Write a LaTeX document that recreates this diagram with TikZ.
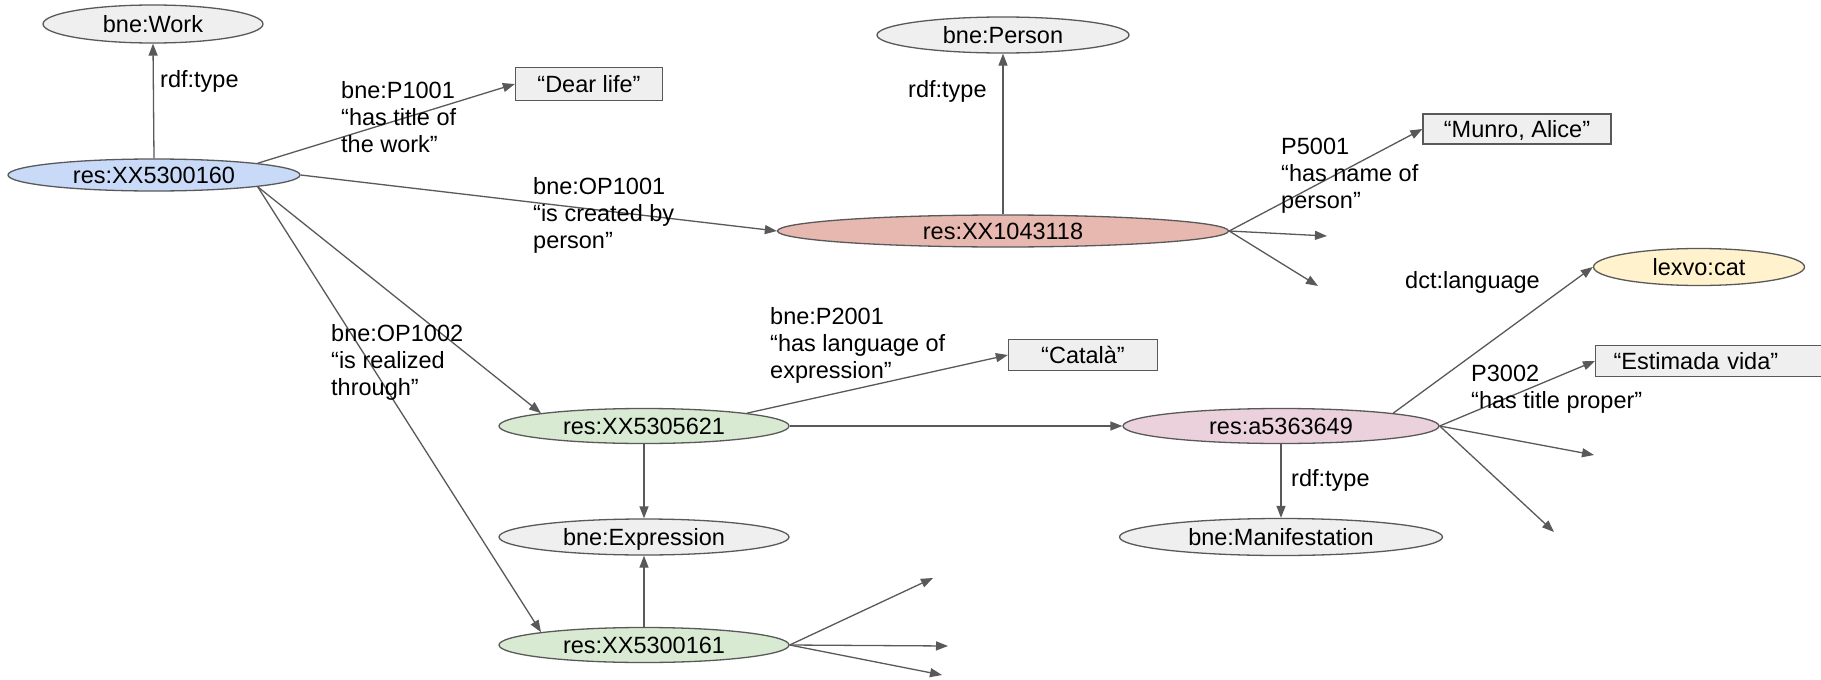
\documentclass[tikz,border=0pt]{standalone}
\usepackage{fontspec}
\setmainfont{Liberation Sans}
\usetikzlibrary{arrows.meta,shapes.geometric}
\definecolor{ln}{HTML}{595959}
\definecolor{gfill}{HTML}{EFEFEF}
\definecolor{bluef}{HTML}{C9DAF8}
\definecolor{redf}{HTML}{E6B8AF}
\definecolor{yelf}{HTML}{FFF2CC}
\definecolor{grnf}{HTML}{D9EAD3}
\definecolor{pinkf}{HTML}{EAD1DC}
\begin{document}
\begin{tikzpicture}[x=1pt,y=-1pt,
  font=\fontsize{23.5}{27}\selectfont,
  ell/.style={ellipse, draw=ln, line width=1.3pt, fill=gfill, inner sep=0pt,
    text height=16.8pt, text depth=0pt},
  lit/.style={rectangle, draw=ln, line width=1.3pt, fill=gfill, inner sep=0pt,
    text height=16.8pt, text depth=0pt},
  lbl/.style={anchor=north west, inner sep=0pt, align=left},
  arr/.style={draw=ln, line width=1.3pt, -{Triangle[length=12pt,width=9pt]}}]
\fill[white] (0,0) rectangle (1821,680);
\useasboundingbox (0,0) rectangle (1821,680);

% nodes
\node[ell, minimum width=220pt, minimum height=38pt] (work) at (153,24) {bne:Work};
\node[ell, fill=bluef, minimum width=292pt, minimum height=32pt] (x160) at (154,175) {res:XX5300160};
\node[lit, minimum width=147pt, minimum height=33pt] (dearlife) at (589,84) {“Dear life”};
\node[ell, minimum width=252pt, minimum height=36pt] (person) at (1003,35) {bne:Person};
\node[ell, fill=redf, minimum width=451pt, minimum height=32pt] (x118) at (1003,231) {res:XX1043118};
\node[lit, minimum width=188pt, minimum height=30pt] (munro) at (1517,129) {“Munro, Alice”};
\node[ell, fill=yelf, minimum width=211pt, minimum height=37pt] (lexvo) at (1699,267) {lexvo:cat};
\node[lit, anchor=west, minimum height=31pt, text width=190pt, align=left, inner xsep=18pt] (estimada) at (1595,361) {“Estimada vida”};
\node[lit, minimum width=149pt, minimum height=31pt] (catala) at (1083,355) {“Català”};
\node[ell, fill=grnf, minimum width=290pt, minimum height=35pt] (x621) at (644,426) {res:XX5305621};
\node[ell, fill=pinkf, minimum width=316pt, minimum height=35pt] (a649) at (1281,426) {res:a5363649};
\node[ell, minimum width=290pt, minimum height=36pt] (expression) at (644,537) {bne:Expression};
\node[ell, minimum width=323pt, minimum height=37pt] (manif) at (1281,537) {bne:Manifestation};
\node[ell, fill=grnf, minimum width=290pt, minimum height=35pt] (x161) at (644,645) {res:XX5300161};

% free ends
\coordinate (d1) at (1327,236);
\coordinate (d2) at (1318,286);
\coordinate (d3) at (933,578);
\coordinate (d4) at (948,646);
\coordinate (d5) at (942,675);
\coordinate (d6) at (1594,455);
\coordinate (d7) at (1554,532);

% connectors
\draw[arr] (x160.north) -- (work.south);
\draw[arr] (x160.north east) -- (dearlife.west);
\draw[arr] (x160.east) -- (x118.west);
\draw[arr] (x160.south east) -- (x621.north west);
\draw[arr] (x160.south east) -- (x161.north west);
\draw[arr] (x118.north) -- (person.south);
\draw[arr] (x118.east) -- (munro.west);
\draw[arr] (x118.east) -- (d1);
\draw[arr] (x118.east) -- (d2);
\draw[arr] (x621.north east) -- (catala.west);
\draw[arr] (x621.east) -- (a649.west);
\draw[arr] (x621.south) -- (expression.north);
\draw[arr] (x161.north) -- (expression.south);
\draw[arr] (x161.east) -- (d3);
\draw[arr] (x161.east) -- (d4);
\draw[arr] (x161.east) -- (d5);
\draw[arr] (a649.north east) -- (lexvo.west);
\draw[arr] (a649.east) -- (estimada.west);
\draw[arr] (a649.east) -- (d6);
\draw[arr] (a649.east) -- (d7);
\draw[arr] (a649.south) -- (manif.north);

% labels
\node[lbl] (l1) at (160,70) {rdf:type};
\node[lbl] (l2) at (341,81) {bne:P1001\\“has title of\\the work”};
\node[lbl] (l3) at (533,177) {bne:OP1001\\“is created by\\person”};
\node[lbl] (l4) at (331,324) {bne:OP1002\\“is realized\\through”};
\node[lbl] (l5) at (908,80) {rdf:type};
\node[lbl] (l6) at (1281,138) {P5001\\“has name of\\person”};
\node[lbl] (l7) at (770,307) {bne:P2001\\“has language of\\expression”};
\node[lbl] (l8) at (1405,271) {dct:language};
\node[lbl] (l9) at (1471,365) {P3002\\“has title proper”};
\node[lbl] (l10) at (1291,469) {rdf:type};
\end{tikzpicture}
\end{document}
